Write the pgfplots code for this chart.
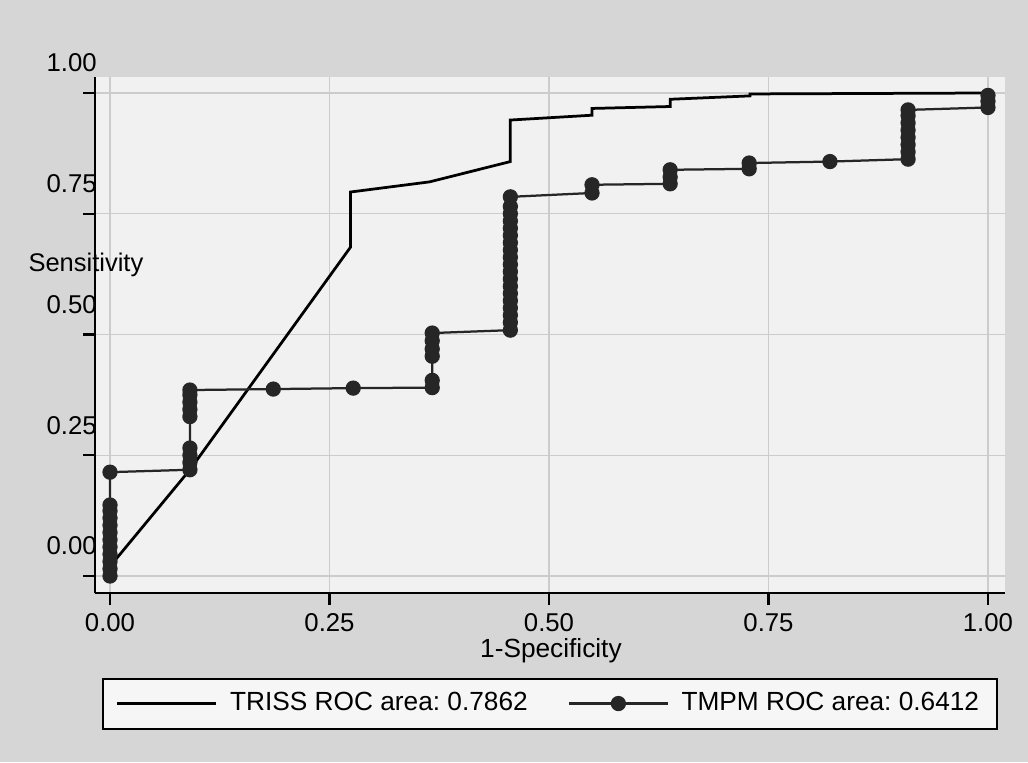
\documentclass[border=0pt]{standalone}
\usepackage{fontspec}
\setmainfont{Liberation Sans}
\usepackage{pgfplots}
\pgfplotsset{compat=1.18}
\definecolor{bgout}{RGB}{214,214,214}
\definecolor{bgplot}{RGB}{241,241,241}
\definecolor{gridc}{RGB}{204,204,204}
\definecolor{legfill}{RGB}{246,246,246}
\definecolor{mk}{RGB}{38,38,38}
\frenchspacing

\begin{document}
\begin{tikzpicture}
% page = 1028 x 762 px at 0.4pt per px
\fill[bgout] (0pt,0pt) rectangle (411.2pt,-304.8pt);
\path[use as bounding box] (0pt,0pt) rectangle (411.2pt,-304.8pt);
\begin{axis}[
    at={(38pt,-237.2pt)}, anchor=south west,
    scale only axis, width=364pt, height=206.4pt,
    xmin=-0.0171, xmax=1.0194, ymin=-0.0352, ymax=1.0331,
    axis background/.style={fill=bgplot},
    axis x line=bottom, axis y line=left,
    axis line style={-, black, line width=1.1pt},
    grid=major, grid style={gridc, line width=0.6pt},
    xtick={0,0.25,0.5,0.75,1}, ytick={0,0.25,0.5,0.75,1},
    xticklabels={0.00,0.25,0.50,0.75,1.00},
    yticklabels={0.00,0.25,0.50,0.75,1.00},
    tick align=outside, major tick length=4.8pt,
    tick style={black, line width=0.9pt},
    ticklabel style={font=\fontsize{10.3}{12}\selectfont},
    yticklabel style={yshift=12pt, xshift=9pt},
    xlabel={1-Specificity}, ylabel={Sensitivity},
    every axis x label/.style={at={(axis description cs:0.501,-0.1125)}, anchor=center,
        font=\fontsize{10.5}{12}\selectfont},
    every axis y label/.style={at={(axis description cs:-0.0736,0.636)}, anchor=west,
        inner sep=0pt, font=\fontsize{10.2}{12}\selectfont},
    legend columns=2,
    legend style={at={(axis description cs:0.5,-0.2142)}, anchor=center,
        draw=black, line width=0.8pt, fill=legfill,
        inner xsep=5pt, inner ysep=3.6pt,
        font=\fontsize{10.5}{12}\selectfont,
        /tikz/every odd column/.append style={column sep=3pt},
        /tikz/every even column/.append style={column sep=14pt}},
    legend image code/.code={\draw[mark repeat=2,mark phase=2,#1]
        plot coordinates {(0pt,0pt) (19.8pt,0pt) (39.6pt,0pt)};},
]
\addplot[black, line width=1.1pt] coordinates {
    (0,0.02) (0.091,0.22) (0.274,0.681) (0.274,0.795) (0.364,0.816)
    (0.456,0.858) (0.456,0.944) (0.549,0.954) (0.549,0.968) (0.638,0.972)
    (0.638,0.987) (0.729,0.994) (0.729,0.998) (1,1)
};
\addlegendentry{TRISS ROC area: 0.7862}
\addplot[mk, line width=0.9pt, mark=*, mark size=2.6pt,
    mark options={solid, fill=mk, draw=mk}] coordinates {
    (0,0) (0,0.015) (0,0.03) (0,0.045) (0,0.06) (0,0.075) (0,0.09) (0,0.105)
    (0,0.12) (0,0.135) (0,0.147) (0,0.215)
    (0.091,0.22) (0.091,0.235) (0.091,0.25) (0.091,0.265) (0.091,0.33)
    (0.091,0.345) (0.091,0.36) (0.091,0.375) (0.091,0.385)
    (0.186,0.387) (0.277,0.389)
    (0.367,0.39) (0.367,0.405) (0.367,0.455) (0.367,0.47) (0.367,0.487) (0.367,0.503)
    (0.456,0.509) (0.456,0.525) (0.456,0.54) (0.456,0.555) (0.456,0.57)
    (0.456,0.585) (0.456,0.6) (0.456,0.615) (0.456,0.63) (0.456,0.645)
    (0.456,0.66) (0.456,0.675) (0.456,0.69) (0.456,0.705) (0.456,0.72)
    (0.456,0.735) (0.456,0.75) (0.456,0.765) (0.456,0.785)
    (0.549,0.793) (0.549,0.81)
    (0.638,0.812) (0.638,0.826) (0.638,0.841)
    (0.728,0.843) (0.728,0.855)
    (0.82,0.858)
    (0.909,0.863) (0.909,0.878) (0.909,0.893) (0.909,0.908) (0.909,0.923)
    (0.909,0.938) (0.909,0.953) (0.909,0.965)
    (1,0.97) (1,0.983) (1,0.995)
};
\addlegendentry{TMPM ROC area: 0.6412}
\end{axis}
\end{tikzpicture}
\end{document}
